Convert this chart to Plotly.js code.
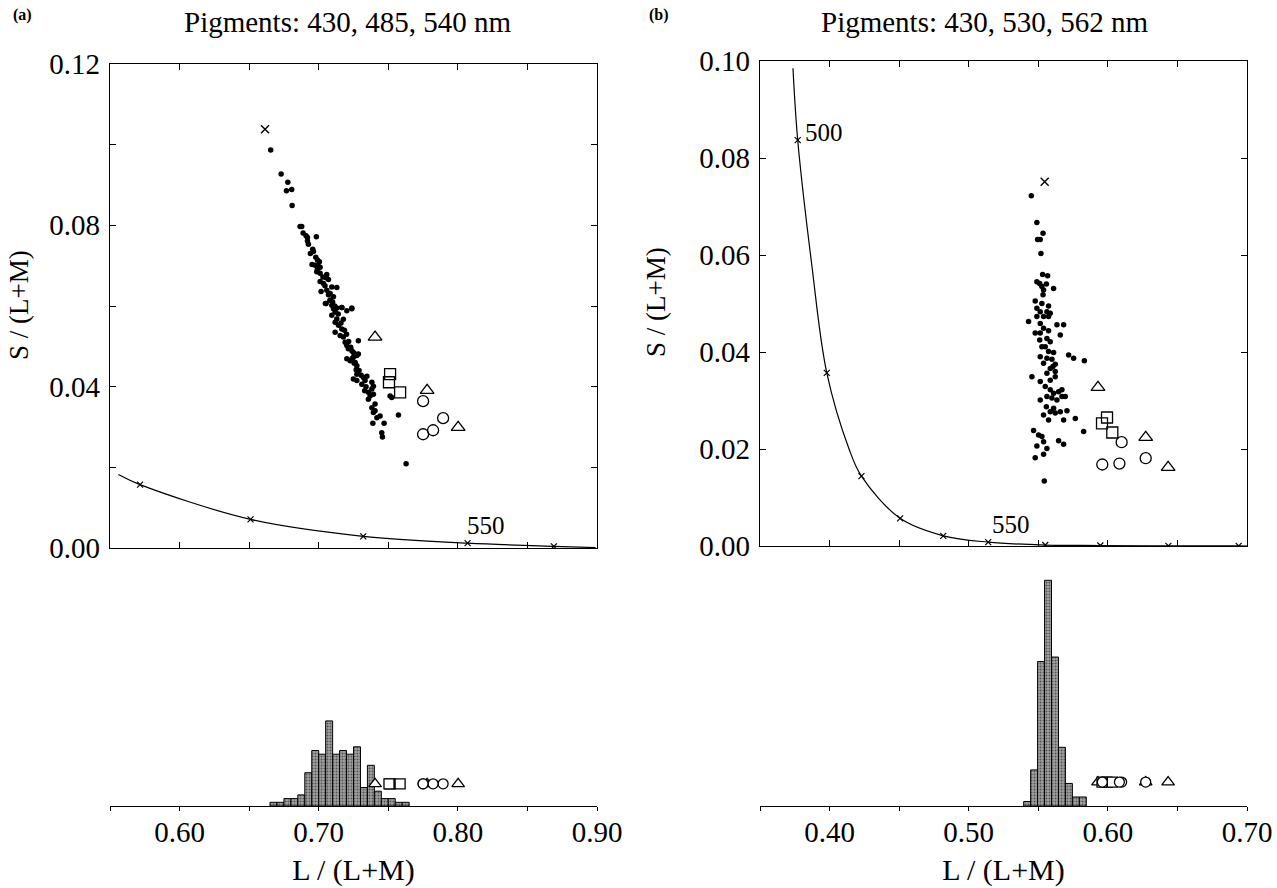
<!DOCTYPE html>
<html><head><meta charset="utf-8">
<script src="https://cdn.plot.ly/plotly-3.0.1.min.js"></script>
<style>html,body{margin:0;padding:0;background:#fff}#chart{width:1277px;height:888px}</style>
</head><body><div id="chart"></div>
<script>
// ---------- Panel (a): pigments 430, 485, 540 nm ----------
const titleA = 'Pigments: 430, 485, 540 nm';
const dotsAx = [0.6655,0.6730,0.6778,0.6768,0.6806,0.6809,0.6866,0.6878,0.6888,0.6909,0.6919,0.6983,0.6919,0.6926,0.6957,0.6962,0.6979,0.6991,0.6952,0.6974,0.6996,0.7010,0.6986,0.7010,0.7058,0.7053,0.7070,0.7010,0.7034,0.7094,0.7130,0.7017,0.7058,0.7082,0.7048,0.7082,0.7106,0.7094,0.7130,0.7166,0.7238,0.7053,0.7082,0.7106,0.7118,0.7166,0.7202,0.7238,0.7094,0.7130,0.7118,0.7177,0.7142,0.7118,0.7166,0.7154,0.7177,0.7190,0.7202,0.7213,0.7238,0.7249,0.7262,0.7274,0.7202,0.7226,0.7249,0.7262,0.7274,0.7285,0.7285,0.7269,0.7274,0.7249,0.7274,0.7321,0.7333,0.7346,0.7310,0.7382,0.7393,0.7382,0.7357,0.7369,0.7357,0.7393,0.7513,0.7525,0.7573,0.7382,0.7405,0.7393,0.7418,0.7405,0.7441,0.7389,0.7470,0.7453,0.7458,0.7628,0.6990,0.7030,0.7045,0.7070,0.7100,0.7115,0.7140,0.7160,0.7185,0.7200,0.7215,0.7230,0.7240,0.7255,0.7290,0.7305,0.7340,0.7330,0.7005,0.6940];
const dotsAy = [0.0987,0.0927,0.0907,0.0886,0.0889,0.0849,0.0797,0.0797,0.0781,0.0774,0.0770,0.0772,0.0761,0.0753,0.0741,0.0735,0.0721,0.0714,0.0703,0.0701,0.0699,0.0696,0.0685,0.0681,0.0678,0.0670,0.0666,0.0661,0.0656,0.0647,0.0646,0.0636,0.0639,0.0631,0.0606,0.0614,0.0623,0.0602,0.0595,0.0596,0.0595,0.0606,0.0614,0.0593,0.0585,0.0596,0.0588,0.0593,0.0577,0.0568,0.0560,0.0567,0.0552,0.0535,0.0543,0.0527,0.0523,0.0510,0.0502,0.0494,0.0489,0.0485,0.0481,0.0477,0.0469,0.0464,0.0473,0.0460,0.0452,0.0481,0.0514,0.0442,0.0431,0.0419,0.0415,0.0423,0.0415,0.0426,0.0406,0.0411,0.0401,0.0394,0.0386,0.0377,0.0369,0.0381,0.0377,0.0373,0.0330,0.0348,0.0357,0.0336,0.0323,0.0340,0.0327,0.0309,0.0309,0.0286,0.0275,0.0209,0.0690,0.0672,0.0650,0.0628,0.0610,0.0600,0.0580,0.0558,0.0540,0.0530,0.0512,0.0498,0.0470,0.0458,0.0440,0.0428,0.0400,0.0390,0.0710,0.0730];
const crossA = {x: 0.6614, y: 0.1038};
const triAx = [0.7405,0.7779,0.8002], triAy = [0.0523,0.0391,0.0299];
const sqAx  = [0.7513,0.7505,0.7585], sqAy  = [0.0431,0.0411,0.0386];
const cirAx = [0.7750,0.7894,0.7822,0.7750], cirAy = [0.0364,0.0322,0.0292,0.0282];
const locusAx = [0.556,0.5716,0.651,0.732,0.807,0.869,0.899];
const locusAy = [0.0182,0.0157,0.0071,0.0029,0.0012,0.0004,0.0001];
const locusAMark = [false,true,true,true,true,true,false];
const locusALabel = {text:'550', x:0.807, y:0.0012};
const histAx = [0.6675,0.6725,0.6775,0.6825,0.6875,0.6925,0.6975,0.7025,0.7075,0.7125,0.7175,0.7225,0.7275,0.7325,0.7375,0.7425,0.7475,0.7525,0.7575,0.7625];
const histAcount = [1,1,2,2,3,9,15,14,23,14,15,14,16,5,11,4,2,2,1,1];
const histALevel = 6;

// ---------- Panel (b): pigments 430, 530, 562 nm ----------
const titleB = 'Pigments: 430, 530, 562 nm';
const dotsBx = [0.5450,0.5490,0.5534,0.5495,0.5514,0.5519,0.5531,0.5567,0.5490,0.5510,0.5526,0.5558,0.5538,0.5610,0.5534,0.5478,0.5526,0.5574,0.5490,0.5514,0.5562,0.5586,0.5538,0.5574,0.5430,0.5514,0.5538,0.5574,0.5682,0.5634,0.5658,0.5478,0.5510,0.5562,0.5586,0.5550,0.5574,0.5610,0.5514,0.5562,0.5598,0.5622,0.5538,0.5586,0.5622,0.5718,0.5754,0.5831,0.5454,0.5514,0.5586,0.5622,0.5550,0.5586,0.5610,0.5646,0.5670,0.5694,0.5514,0.5562,0.5598,0.5634,0.5558,0.5586,0.5622,0.5658,0.5706,0.5538,0.5574,0.5682,0.5766,0.5826,0.5466,0.5502,0.5526,0.5646,0.5682,0.5538,0.5490,0.5562,0.5478,0.5538,0.5543,0.5610,0.5562,0.5605,0.5526,0.5514,0.5490,0.5670];
const dotsBy = [0.0722,0.0667,0.0645,0.0632,0.0632,0.0603,0.0560,0.0557,0.0545,0.0541,0.0535,0.0540,0.0528,0.0531,0.0518,0.0505,0.0500,0.0495,0.0490,0.0483,0.0483,0.0480,0.0473,0.0473,0.0463,0.0459,0.0449,0.0444,0.0456,0.0456,0.0435,0.0439,0.0425,0.0428,0.0421,0.0411,0.0401,0.0399,0.0390,0.0387,0.0385,0.0375,0.0377,0.0366,0.0360,0.0394,0.0387,0.0382,0.0349,0.0339,0.0342,0.0349,0.0329,0.0322,0.0315,0.0318,0.0308,0.0308,0.0301,0.0308,0.0305,0.0301,0.0287,0.0277,0.0274,0.0277,0.0279,0.0270,0.0260,0.0260,0.0263,0.0236,0.0238,0.0229,0.0226,0.0217,0.0210,0.0215,0.0206,0.0201,0.0182,0.0189,0.0134,0.0284,0.0356,0.0370,0.0411,0.0439,0.0473,0.0322];
const crossB = {x: 0.5546, y: 0.0751};
const triBx = [0.5929,0.6272,0.6433], triBy = [0.0327,0.0224,0.0162];
const sqBx  = [0.5994,0.5958,0.6032], sqBy  = [0.0265,0.0253,0.0234];
const cirBx = [0.6099,0.5960,0.6083,0.6272], cirBy = [0.0214,0.0168,0.0170,0.0181];
const locusBx = [0.3737,0.3771,0.3872,0.398,0.414,0.4229,0.4507,0.4817,0.514,0.555,0.5946,0.6435,0.694,0.70];
const locusBy = [0.0985,0.0837,0.058,0.0357,0.020,0.0144,0.0057,0.0021,0.0008,0.0002,0.0001,0.00003,0.00001,0];
const locusBMark = [false,true,false,true,false,true,true,true,true,true,true,true,true,false];
const locusBLabels = [{text:'500', x:0.3771, y:0.0837},{text:'550', x:0.514, y:0.0008}];
const histBx = [0.5420,0.5470,0.5520,0.5570,0.5620,0.5670,0.5720,0.5770,0.5820];
const histBcount = [1,8,32,50,33,13,5,2,2];
const histBLevel = 5.3;

const xLabel = 'L / (L+M)', yLabel = 'S / (L+M)';

// ---------- layout helpers ----------
const W = 1277, H = 888;
const dx = (a,b) => [a/W, b/W];
const dy = (top,bottom) => [1-bottom/H, 1-top/H];
const FONT = '"Liberation Serif", "Times New Roman", serif';
const pick = (arr, mask) => arr.filter((_,i)=>mask[i]);

function panelTraces(xa, ya, xh, yh, d) {
  const t = [];
  t.push({type:'scatter', mode:'lines', x:d.lx, y:d.ly, xaxis:xa, yaxis:ya,
    line:{color:'#000', width:1.2, shape:'spline', smoothing:1}, hoverinfo:'skip'});
  t.push({type:'scatter', mode:'markers', x:pick(d.lx,d.lm), y:pick(d.ly,d.lm), xaxis:xa, yaxis:ya,
    marker:{symbol:'x-thin-open', size:6, color:'#000', line:{width:1.2, color:'#000'}}});
  t.push({type:'scatter', mode:'markers', x:d.dx, y:d.dy, xaxis:xa, yaxis:ya,
    marker:{symbol:'circle', size:5.5, color:'#000'}});
  t.push({type:'scatter', mode:'markers', x:[d.cross.x], y:[d.cross.y], xaxis:xa, yaxis:ya,
    marker:{symbol:'x-thin-open', size:8, color:'#000', line:{width:1.4, color:'#000'}}});
  const sym = [['triangle-up', d.tx, d.ty, 12], ['square', d.sx, d.sy, 11], ['circle', d.cx, d.cy, 11]];
  for (const [s, xs, ys, sz] of sym) {
    t.push({type:'scatter', mode:'markers', x:xs, y:ys, xaxis:xa, yaxis:ya,
      marker:{symbol:s, size:sz, color:'rgba(255,255,255,0)', line:{width:1.3, color:'#000'}}});
  }
  t.push({type:'bar', x:d.hx, y:d.hc, width:0.005, xaxis:xh, yaxis:yh,
    marker:{color:'#999999', line:{color:'#000', width:1},
      pattern:{shape:'.', fgcolor:'#555555', bgcolor:'#a4a4a4', size:3, solidity:0.4}}});
  for (const [s, xs, , sz] of sym) {
    t.push({type:'scatter', mode:'markers', x:xs, y:xs.map(()=>d.level), xaxis:xh, yaxis:yh,
      marker:{symbol:s, size:sz-1, color:'#fff', line:{width:1.3, color:'#000'}}});
  }
  return t;
}

const traces = [
  ...panelTraces('x','y','x2','y2', {lx:locusAx, ly:locusAy, lm:locusAMark, dx:dotsAx, dy:dotsAy, cross:crossA,
    tx:triAx, ty:triAy, sx:sqAx, sy:sqAy, cx:cirAx, cy:cirAy, hx:histAx, hc:histAcount, level:histALevel}),
  ...panelTraces('x3','y3','x4','y4', {lx:locusBx, ly:locusBy, lm:locusBMark, dx:dotsBx, dy:dotsBy, cross:crossB,
    tx:triBx, ty:triBy, sx:sqBx, sy:sqBy, cx:cirBx, cy:cirBy, hx:histBx, hc:histBcount, level:histBLevel})
];

const tickFont = {family:FONT, size:29, color:'#000'};
function scatterX(dom, range, anchor) {
  return {domain:dom, range:range, anchor:anchor, showline:true, linecolor:'#000', linewidth:1.3, mirror:'ticks',
    ticks:'inside', ticklen:6, tickwidth:1, tickcolor:'#000', tick0:0, dtick:0.05, showticklabels:false,
    showgrid:false, zeroline:false, automargin:false, fixedrange:true};
}
function scatterY(dom, range, anchor, dtick, minor) {
  const o = {domain:dom, range:range, anchor:anchor, showline:true, linecolor:'#000', linewidth:1.3, mirror:'ticks',
    ticks:'inside', ticklen:6, tickwidth:1, tickcolor:'#000', tick0:0, dtick:dtick, tickformat:'.2f',
    tickfont:tickFont, ticklabelstandoff:3, showgrid:false, zeroline:false, automargin:false, fixedrange:true};
  if (minor) o.minor = {dtick:minor, ticks:'inside', ticklen:6, tickcolor:'#000', showgrid:false};
  return o;
}
function histX(dom, range, anchor) {
  return {domain:dom, range:range, anchor:anchor, showline:true, linecolor:'#000', linewidth:1.3,
    ticks:'outside', ticklen:4, tickcolor:'#000', tick0:0, dtick:0.1, tickformat:'.2f', tickfont:tickFont,
    ticklabelstandoff:-4, minor:{dtick:0.05, ticks:'outside', ticklen:4, tickcolor:'#000', showgrid:false},
    showgrid:false, zeroline:false, automargin:false, fixedrange:true,
    title:{text:xLabel, font:{family:FONT, size:30, color:'#000'}, standoff:12}};
}
function histY(dom, range, anchor) {
  return {domain:dom, range:range, anchor:anchor, visible:false, showgrid:false, zeroline:false, fixedrange:true};
}
const yTitle = (xpx, ypx) => ({text:yLabel, xref:'paper', yref:'paper', x:xpx/W, y:1-ypx/H, xanchor:'center',
  yanchor:'middle', textangle:-90, showarrow:false, font:{family:FONT, size:27, color:'#000'}});

const layout = {
  width:W, height:H, margin:{l:0, r:0, t:0, b:0}, showlegend:false,
  paper_bgcolor:'#fff', plot_bgcolor:'rgba(0,0,0,0)', bargap:0,
  font:{family:FONT, color:'#000'},
  xaxis: scatterX(dx(110,597), [0.55,0.90], 'y'),
  yaxis: scatterY(dy(64,548), [0,0.12], 'x', 0.04, 0.02),
  xaxis2: histX(dx(110,597), [0.55,0.90], 'y2'),
  yaxis2: histY(dy(560,806), [0,66.5], 'x2'),
  xaxis3: scatterX(dx(760,1247), [0.35,0.70], 'y3'),
  yaxis3: scatterY(dy(61,546), [0,0.10], 'x3', 0.02, null),
  xaxis4: histX(dx(760,1247), [0.35,0.70], 'y4'),
  yaxis4: histY(dy(560,806), [0,54.5], 'x4'),
  annotations: [
    {text:titleA, xref:'paper', yref:'paper', x:348/W, y:1-22/H, xanchor:'center', yanchor:'middle', showarrow:false,
     font:{family:FONT, size:29, color:'#000'}},
    {text:titleB, xref:'paper', yref:'paper', x:985/W, y:1-22/H, xanchor:'center', yanchor:'middle', showarrow:false,
     font:{family:FONT, size:29, color:'#000'}},
    {text:'<b>(a)</b>', xref:'paper', yref:'paper', x:11/W, y:1-15/H, xanchor:'left', yanchor:'middle', showarrow:false,
     font:{family:FONT, size:16, color:'#000'}},
    {text:'<b>(b)</b>', xref:'paper', yref:'paper', x:647/W, y:1-15/H, xanchor:'left', yanchor:'middle', showarrow:false,
     font:{family:FONT, size:16, color:'#000'}},
    yTitle(19, 305),
    yTitle(656, 302),
    {text:locusALabel.text, xref:'x', yref:'y', x:locusALabel.x, y:locusALabel.y, xanchor:'left', yanchor:'bottom',
     xshift:-3, yshift:2, showarrow:false, font:{family:FONT, size:25, color:'#000'}},
    {text:locusBLabels[0].text, xref:'x3', yref:'y3', x:locusBLabels[0].x, y:locusBLabels[0].y, xanchor:'left', yanchor:'middle',
     xshift:5, yshift:8, showarrow:false, font:{family:FONT, size:25, color:'#000'}},
    {text:locusBLabels[1].text, xref:'x3', yref:'y3', x:locusBLabels[1].x, y:locusBLabels[1].y, xanchor:'left', yanchor:'bottom',
     xshift:2, yshift:2, showarrow:false, font:{family:FONT, size:25, color:'#000'}}
  ]
};

Plotly.newPlot('chart', traces, layout, {displayModeBar:false, staticPlot:true});
</script></body></html>
